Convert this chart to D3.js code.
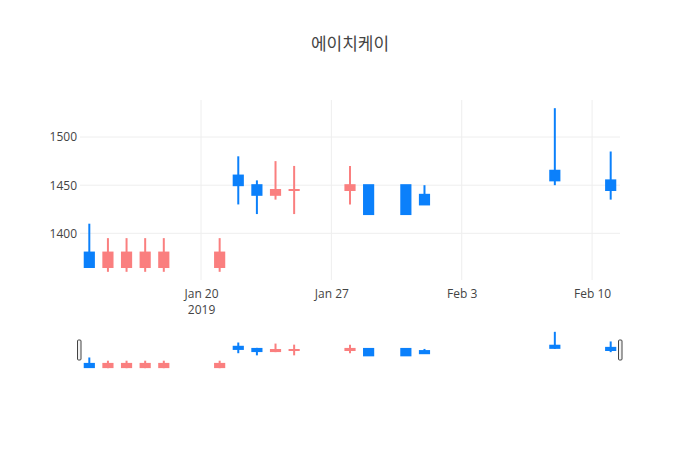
<!DOCTYPE html>
<html>
<head>
<meta charset="utf-8">
<script src="https://cdn.jsdelivr.net/npm/d3@7"></script>
<style>
  body { margin: 0; background: #fff; }
  text { font-family: "Open Sans", "Noto Sans CJK KR", sans-serif; fill: #444; }
</style>
</head>
<body>
<div id="chart"></div>
<script>
var svgWidth = 700;
var svgHeight = 450;

// candle data
var dates = ["2019-01-14", "2019-01-15", "2019-01-16", "2019-01-17", "2019-01-18",
  "2019-01-21", "2019-01-22", "2019-01-23", "2019-01-24", "2019-01-25",
  "2019-01-28", "2019-01-29", "2019-01-31", "2019-02-01", "2019-02-08", "2019-02-11"];
var open  = [1380, 1365, 1365, 1365, 1365, 1365, 1460, 1450, 1440, 1445, 1445, 1450, 1450, 1440, 1465, 1455];
var high  = [1410, 1395, 1395, 1395, 1395, 1395, 1480, 1455, 1475, 1470, 1470, 1450, 1450, 1450, 1530, 1485];
var low   = [1365, 1360, 1360, 1360, 1360, 1360, 1430, 1420, 1435, 1420, 1430, 1420, 1420, 1430, 1450, 1435];
var close = [1365, 1380, 1380, 1380, 1380, 1380, 1450, 1440, 1445, 1445, 1450, 1420, 1420, 1430, 1455, 1445];

var xTicks = ["2019-01-20", "2019-01-27", "2019-02-03", "2019-02-10"];
var yTicks = [1400, 1450, 1500];
var title = "에이치케이";

var upColor = "#fa7f7f";
var downColor = "#0b80fb";

var plot = { left: 80, right: 620, top: 100, bottom: 280 };
var slider = { top: 330, bottom: 370 };

var parse = d3.utcParse("%Y-%m-%d");
var data = dates.map(function (d, i) {
  return { date: parse(d), open: open[i], high: high[i], low: low[i], close: close[i] };
});

var svg = d3.select("#chart")
  .append("svg")
  .attr("width", svgWidth)
  .attr("height", svgHeight);

// x range padded half a day on both ends
var halfDay = 12 * 3600 * 1000;
var xScale = d3.scaleUtc()
  .domain([new Date(d3.min(data, function (d) { return d.date; }) - halfDay),
           new Date(+d3.max(data, function (d) { return d.date; }) + halfDay)])
  .range([plot.left, plot.right]);

var yMin = d3.min(low), yMax = d3.max(high);
var pad = (yMax - yMin) * 0.05;
var yScale = d3.scaleLinear()
  .domain([yMin - pad, yMax + pad])
  .range([plot.bottom, plot.top]);

var ySlider = d3.scaleLinear()
  .domain([yMin - pad, yMax + pad])
  .range([slider.bottom, slider.top]);

var dayPx = xScale(new Date(24 * 3600 * 1000 * 2)) - xScale(new Date(24 * 3600 * 1000));
var boxW = dayPx * 0.6 - 2;

// grid
svg.append("g")
  .selectAll("line.xg")
  .data(xTicks)
  .enter()
  .append("line")
  .attr("x1", function (d) { return xScale(parse(d)); })
  .attr("x2", function (d) { return xScale(parse(d)); })
  .attr("y1", plot.top)
  .attr("y2", plot.bottom)
  .attr("stroke", "#eee");

svg.append("g")
  .selectAll("line.yg")
  .data(yTicks)
  .enter()
  .append("line")
  .attr("x1", plot.left)
  .attr("x2", plot.right)
  .attr("y1", function (d) { return yScale(d); })
  .attr("y2", function (d) { return yScale(d); })
  .attr("stroke", "#eee");

// axes
var fmt = d3.utcFormat("%b %-d");
var xAxis = d3.axisBottom(xScale)
  .tickValues(xTicks.map(parse))
  .tickSize(0)
  .tickPadding(9)
  .tickFormat(fmt);

var xg = svg.append("g")
  .attr("transform", "translate(0," + plot.bottom + ")")
  .call(xAxis);
xg.select(".domain").remove();
xg.selectAll("text").attr("font-size", "12px").attr("fill", "#444");
xg.select(".tick text")
  .append("tspan")
  .attr("x", 0)
  .attr("dy", "1.35em")
  .text("2019");

var yAxis = d3.axisLeft(yScale)
  .tickValues(yTicks)
  .tickSize(0)
  .tickPadding(3)
  .tickFormat(d3.format("d"));

var yg = svg.append("g")
  .attr("transform", "translate(" + plot.left + ",0)")
  .call(yAxis);
yg.select(".domain").remove();
yg.selectAll("text").attr("font-size", "12px").attr("fill", "#444");

// candles
function drawCandles(g, y, lw) {
  var c = g.selectAll("g.candle")
    .data(data)
    .enter()
    .append("g")
    .attr("class", "candle");

  c.append("line")
    .attr("x1", function (d) { return xScale(d.date); })
    .attr("x2", function (d) { return xScale(d.date); })
    .attr("y1", function (d) { return y(d.high); })
    .attr("y2", function (d) { return y(d.low); })
    .attr("stroke", function (d) { return d.close >= d.open ? upColor : downColor; })
    .attr("stroke-width", lw);

  c.append("rect")
    .attr("x", function (d) { return xScale(d.date) - boxW / 2; })
    .attr("y", function (d) { return y(Math.max(d.open, d.close)); })
    .attr("width", boxW)
    .attr("height", function (d) { return Math.max(Math.abs(y(d.open) - y(d.close)), 0.01); })
    .attr("fill", function (d) { return d.close >= d.open ? upColor : downColor; })
    .attr("stroke", function (d) { return d.close >= d.open ? upColor : downColor; })
    .attr("stroke-width", lw);
}

drawCandles(svg.append("g"), yScale, 2);

// range slider
var sg = svg.append("g");
sg.append("rect")
  .attr("x", plot.left)
  .attr("y", slider.top)
  .attr("width", plot.right - plot.left)
  .attr("height", slider.bottom - slider.top)
  .attr("fill", "#fff");
drawCandles(sg, ySlider, 2);

var handleH = (slider.bottom - slider.top) / 2;
[plot.left - 1, plot.right].forEach(function (hx) {
  sg.append("rect")
    .attr("x", hx - 1.5)
    .attr("y", slider.top + handleH / 2)
    .attr("width", 3.5)
    .attr("height", handleH)
    .attr("rx", 1)
    .attr("fill", "#f2f2f2")
    .attr("stroke", "#444")
    .attr("stroke-width", 1);
});

// title
svg.append("text")
  .attr("x", svgWidth / 2)
  .attr("y", 50)
  .attr("text-anchor", "middle")
  .attr("font-size", "17px")
  .text(title);
</script>
</body>
</html>
